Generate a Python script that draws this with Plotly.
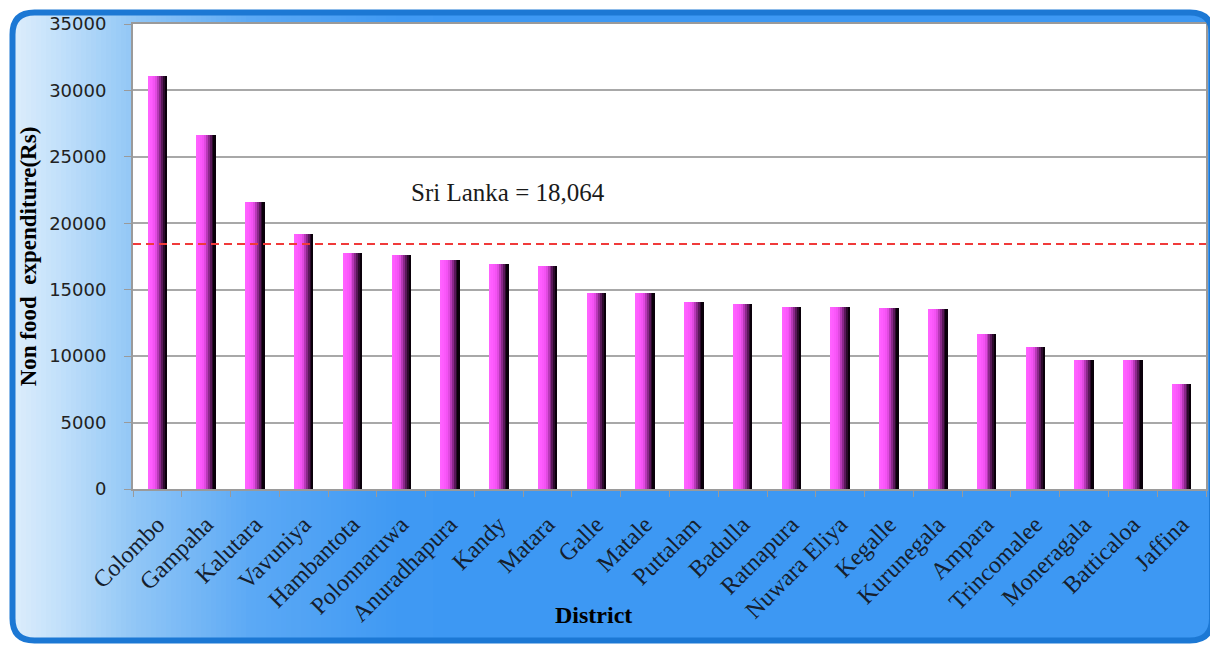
import plotly.graph_objects as go

# Non food expenditure by district (Rs)
districts = ["Colombo", "Gampaha", "Kalutara", "Vavuniya", "Hambantota", "Polonnaruwa",
             "Anuradhapura", "Kandy", "Matara", "Galle", "Matale", "Puttalam", "Badulla",
             "Ratnapura", "Nuwara Eliya", "Kegalle", "Kurunegala", "Ampara", "Trincomalee",
             "Moneragala", "Batticaloa", "Jaffina"]
expenditure = [31100, 26650, 21580, 19170, 17780, 17610, 17230, 16930, 16780, 14740,
               14740, 14090, 13960, 13670, 13670, 13660, 13530, 11700, 10690, 9740,
               9740, 7880]
national_line = 18450
national_label = "Sri Lanka = 18,064"
y_ticks = [0, 5000, 10000, 15000, 20000, 25000, 30000, 35000]

# the page body has an 8px margin, so the figure starts at (8, 8) in the window
OFF = 8
W, H = 1218 - OFF, 646 - OFF
PL, PR, PT, PB = 133, 1206, 24, 489   # plot area in window pixels
L, R, T, B = PL - OFF, 1218 - PR, PT - OFF, 646 - PB


def px(x):
    return (x - PL) / (PR - PL)


def py(y):
    return (PB - y) / (PB - PT)


fig = go.Figure()

# cylinder-ish shading: pink on the left fading to black on the right
shades = ["#ff62ff", "#ff5cff", "#fa58fa", "#f452f4", "#e04ae0",
          "#b838b8", "#8a288a", "#5a185a", "#2c0a2c", "#0a000a"]
bw = 0.40
n = len(shades)
for k, c in enumerate(shades):
    off = -bw / 2 + bw * k / n
    fig.add_trace(go.Bar(
        x=districts, y=expenditure,
        width=bw / 2 - off, offset=off,
        marker=dict(color=c, line_width=0),
        showlegend=False, hoverinfo="x+y" if k == 0 else "skip",
    ))

shapes = []

# background gradient around the plot area (frame fill)
stops = [(11, (222, 238, 252)), (60, (194, 224, 250)), (133, (146, 199, 246)),
         (250, (92, 169, 245)), (400, (63, 153, 243)), (1218, (58, 150, 242))]


def grad(x):
    for (x0, c0), (x1, c1) in zip(stops, stops[1:]):
        if x <= x1:
            t = (x - x0) / (x1 - x0)
            return "rgb(%d,%d,%d)" % tuple(round(a + (b - a) * t) for a, b in zip(c0, c1))
    return "rgb(%d,%d,%d)" % stops[-1][1]


def band(a, b, col):
    if b <= PL:
        segs = [(11, 643)]
    elif a < PL:
        band(a, PL, col)
        band(PL, b, col)
        return
    else:
        segs = [(11, PT), (PB, 643)]
    for y0, y1 in segs:
        shapes.append(dict(type="rect", xref="paper", yref="paper", layer="below",
                           x0=px(a), x1=px(b), y0=py(y1), y1=py(y0),
                           fillcolor=col, line_width=0))


x = 11
while x < 430:
    band(x, x + 8, grad(x + 3))  # strips overlap to avoid seams
    x += 5
band(433, 1216, grad(800))
shapes.append(dict(type="rect", xref="paper", yref="paper", layer="below",
                   x0=px(PR), x1=px(1216), y0=py(643), y1=py(11),
                   fillcolor=grad(800), line_width=0))

# white corner masks + rounded frame border
x0f, y0f, x1f, y1f, r = 12.5, 12.5, 1212, 640.5, 22


def P(x, y):
    return "%.5f,%.5f" % (px(x), py(y))


corners = [
    (x0f, y0f, x0f + r, y0f, x0f, y0f + r),
    (x1f, y0f, x1f - r, y0f, x1f, y0f + r),
    (x0f, y1f, x0f + r, y1f, x0f, y1f - r),
    (x1f, y1f, x1f - r, y1f, x1f, y1f - r),
]
for cx, cy, ax, ay, bx, by in corners:
    ox = cx - 4 if cx < 600 else cx + 6
    oy = cy - 4 if cy < 300 else cy + 6
    path = "M %s L %s L %s Q %s %s L %s Z" % (
        P(ox, oy), P(ax, oy), P(ax, ay), P(cx, cy), P(bx, by), P(ox, by))
    shapes.append(dict(type="path", xref="paper", yref="paper", layer="below",
                       path=path, fillcolor="white", line_width=0))

frame = ("M %s L %s Q %s %s L %s Q %s %s L %s Q %s %s L %s Q %s %s Z" % (
    P(x0f + r, y0f), P(x1f - r, y0f), P(x1f, y0f), P(x1f, y0f + r),
    P(x1f, y1f - r), P(x1f, y1f), P(x1f - r, y1f),
    P(x0f + r, y1f), P(x0f, y1f), P(x0f, y1f - r),
    P(x0f, y0f + r), P(x0f, y0f), P(x0f + r, y0f)))
shapes.append(dict(type="path", xref="paper", yref="paper", layer="above",
                   path=frame, line=dict(color="#1c78d4", width=6)))

# national average line
shapes.append(dict(type="line", xref="paper", yref="y", x0=0, x1=1,
                   y0=national_line, y1=national_line,
                   line=dict(color="#f03a3a", width=2, dash="8px,5px")))

fig.update_layout(
    width=W, height=H, autosize=False,
    margin=dict(l=L, r=R, t=T, b=B, autoexpand=False),
    paper_bgcolor="white", plot_bgcolor="white",
    barmode="overlay", bargap=0,
    shapes=shapes,
    xaxis=dict(
        type="category", range=[-0.5, len(districts) - 0.5], automargin=False,
        tickangle=-45, tickson="boundaries", ticks="outside", ticklen=6,
        tickcolor="#9a9a9a", tickwidth=1, ticklabelstandoff=10,
        showline=True, linecolor="#9a9a9a", linewidth=2, mirror=True,
        showgrid=False,
        tickfont=dict(family="Liberation Serif", size=24, color="#15202e"),
    ),
    yaxis=dict(
        range=[0, 35000], tickvals=y_ticks, tickformat="d", automargin=False,
        ticks="outside", ticklen=7, tickcolor="#9a9a9a",
        ticklabelstandoff=14,
        showline=True, linecolor="#9a9a9a", linewidth=2, mirror=True,
        gridcolor="#a8a8a8", gridwidth=2, zeroline=False,
        tickfont=dict(family="DejaVu Sans", size=18, color="#222222"),
        title=dict(text="<b>Non food\u00a0 expenditure(Rs)</b>", standoff=6,
                   font=dict(family="Liberation Serif", size=23, color="black")),
    ),
    annotations=[
        dict(text=national_label, xref="paper", yref="paper", x=px(508), y=py(193),
             showarrow=False, xanchor="center", yanchor="middle",
             font=dict(family="Liberation Serif", size=25, color="#1a1a1a")),
        dict(text="<b>District</b>", xref="paper", yref="paper", x=px(593), y=py(615),
             showarrow=False, xanchor="center", yanchor="middle",
             font=dict(family="Liberation Serif", size=24, color="black")),
    ],
)

fig.write_html("out.html")
